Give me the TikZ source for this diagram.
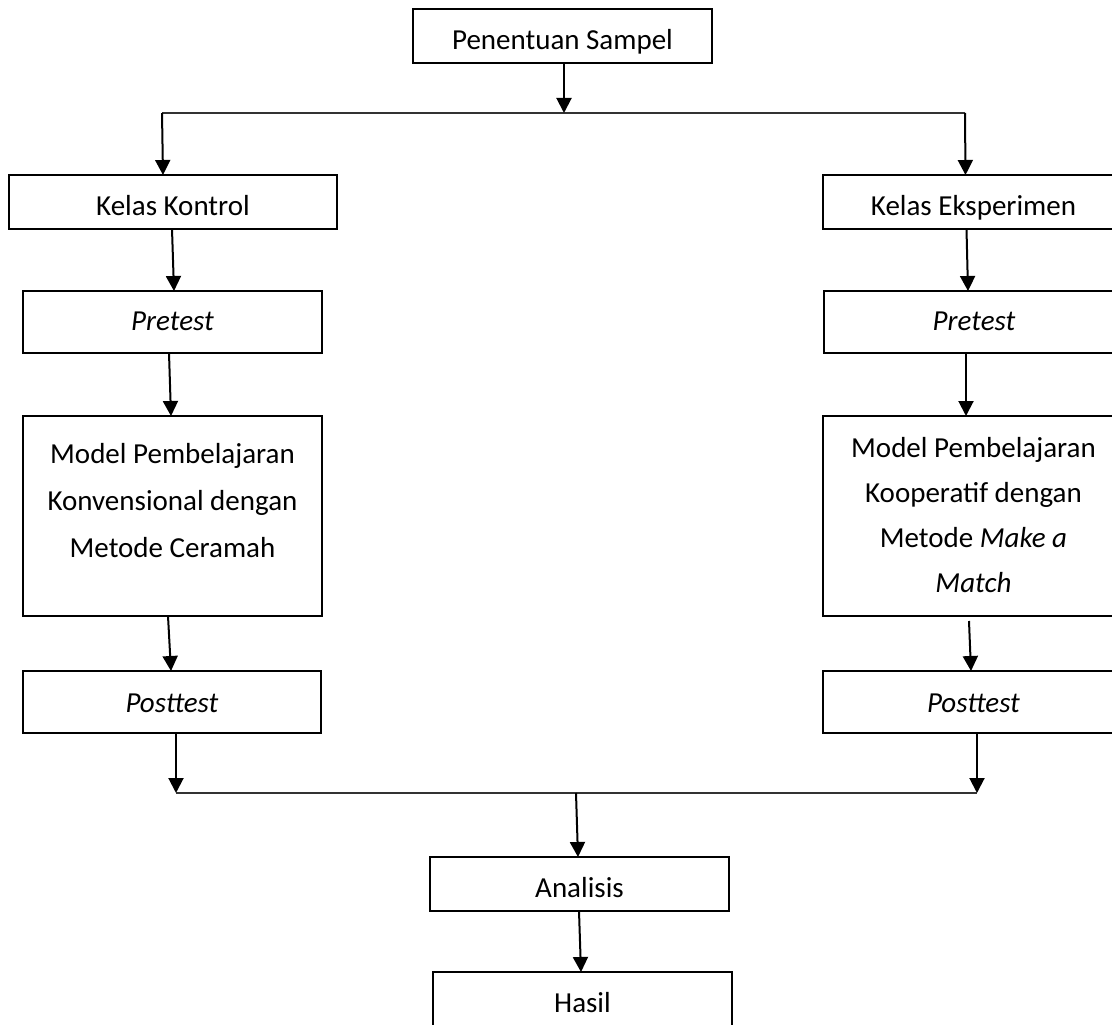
\documentclass[tikz,border=0pt]{standalone}
\usepackage{fontspec}
\setmainfont{Carlito}
\usetikzlibrary{arrows.meta}
\newcommand\boxtxt[4]{\parbox[t][#2][t]{#1}{\centering\rule{0pt}{#3}#4}}
\tikzset{
  box/.style={draw, line width=2pt, inner sep=0pt, outer sep=0pt, anchor=north west,
    font=\fontsize{29pt}{45pt}\selectfont},
  arr/.style={line width=2pt, -{Triangle[width=15pt,length=15pt]}},
  joinline/.style={line width=1.2pt, draw=black!80}
}
\begin{document}
\begin{tikzpicture}[x=1pt,y=1pt]
\useasboundingbox (0,0) rectangle (1112,-1025);
\clip (0,0) rectangle (1112,-1025);
% boxes
\node[box] (ps)  at (413,-9)   {\boxtxt{299pt}{54pt}{41pt}{Penentuan Sampel}};
\node[box] (kk)  at (9,-175)   {\boxtxt{328pt}{54pt}{40pt}{Kelas Kontrol}};
\node[box] (ke)  at (823,-175) {\boxtxt{301pt}{54pt}{40pt}{Kelas Eksperimen}};
\node[box] (prl) at (23,-291)  {\boxtxt{299pt}{62pt}{39pt}{\textit{Pretest}}};
\node[box] (prr) at (824,-291) {\boxtxt{300pt}{62pt}{39pt}{\textit{Pretest}}};
\node[box] (mdl) at (23,-416)  {\boxtxt{299pt}{200pt}{47pt}{\fontsize{29pt}{47pt}\selectfont Model Pembelajaran\\ Konvensional dengan\\ Metode Ceramah}};
\node[box] (mdr) at (823,-416) {\boxtxt{301pt}{200pt}{41pt}{Model Pembelajaran\\ Kooperatif dengan\\ Metode \textit{Make a}\\ \textit{Match}}};
\node[box] (pol) at (23,-671)  {\boxtxt{298pt}{62pt}{41pt}{\textit{Posttest}}};
\node[box] (por) at (823,-671) {\boxtxt{301pt}{62pt}{41pt}{\textit{Posttest}}};
\node[box] (an)  at (430,-857) {\boxtxt{299pt}{54pt}{40pt}{Analisis}};
\node[box] (ha)  at (433,-972) {\boxtxt{299pt}{80pt}{40pt}{Hasil}};
% branch coordinates
\coordinate (bl) at (162,-113);
\coordinate (bm) at (564,-113);
\coordinate (br) at (965,-113);
\coordinate (ml) at (176,-793);
\coordinate (mm) at (576,-793);
\coordinate (mr) at (977,-793);
% top split
\draw[joinline] (bl) -- (br);
\draw[arr] ([xshift=1.5pt]ps.south) -- (bm);
\draw[arr] (bl) -- ([xshift=-10pt]kk.north);
\draw[arr] (br) -- ([xshift=-8pt]ke.north);
% left column
\draw[arr] ([xshift=-1pt]kk.south) -- ([xshift=1.5pt]prl.north);
\draw[arr] ([xshift=-3.5pt]prl.south) -- ([xshift=-1.5pt]mdl.north);
\draw[arr] ([xshift=-4.5pt]mdl.south) -- ([xshift=-1pt]pol.north);
% right column
\draw[arr] ([xshift=-7pt]ke.south) -- ([xshift=-6pt]prr.north);
\draw[arr] ([xshift=-8pt]prr.south) -- ([xshift=-7.5pt]mdr.north);
\draw[arr] ([xshift=-4.5pt,yshift=-5pt]mdr.south) -- ([xshift=-2.5pt]por.north);
% merge
\draw[joinline] (ml) -- (mr);
\draw[arr] ([xshift=4pt]pol.south) -- (ml);
\draw[arr] ([xshift=3.5pt]por.south) -- (mr);
\draw[arr] (mm) -- ([xshift=-1.5pt]an.north);
\draw[arr] ([xshift=-0.5pt]an.south) -- ([xshift=-1.5pt]ha.north);
\end{tikzpicture}
\end{document}
